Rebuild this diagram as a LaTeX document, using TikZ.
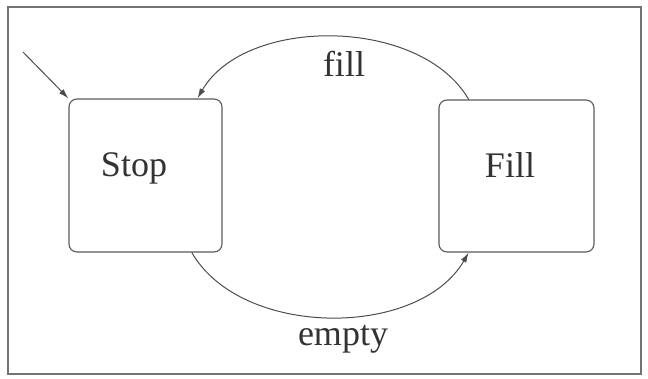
\documentclass[tikz,border=0pt]{standalone}
\usepackage{fontspec}
\setmainfont{Liberation Serif}
\usetikzlibrary{arrows.meta}
\begin{document}
\begin{tikzpicture}[x=1pt,y=1pt]
        \tikzstyle{state}=[rectangle,rounded corners=8pt,line width=1.1pt,draw=black!65]
        \tikzstyle{lbl}=[anchor=base,text=black!80,font=\fontsize{36}{40}\selectfont]
        \tikzstyle{edge}=[line width=1pt,draw=black!70,-{Latex[length=10pt,width=6pt]}]

      \begin{scope}
         \useasboundingbox (0,0) rectangle (648,379);
         \draw[line width=1.2pt,draw=black!55] (8,5) rectangle (641,372);

         \node[state,minimum width=153pt,minimum height=153pt] (stop) at (145.5,203.5) {};
         \node[state,minimum width=155pt,minimum height=152pt] (fill) at (516.5,203) {};

         \node[lbl] (stoptext) at (134,202) {Stop};
         \node[lbl] (filltext) at (510,201) {Fill};

         \coordinate (init) at (23,327);
         \draw[edge] (init) to (stop.north west);

         \draw[edge] (fill.122) to[out=120,in=60,looseness=0.9] (stop.56);
         \draw[edge] (stop.-59) to[out=-60,in=-120,looseness=0.92] (fill.-122);

         \node[lbl] (fillev)  at (344,302) {fill};
         \node[lbl] (emptyev) at (343,33)  {empty};
      \end{scope}
    \end{tikzpicture}
\end{document}
